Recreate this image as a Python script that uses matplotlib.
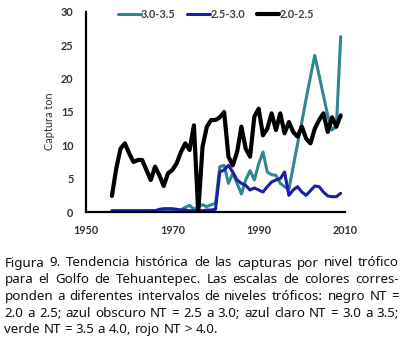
import matplotlib
matplotlib.use("Agg")
import matplotlib.pyplot as plt
from matplotlib import font_manager

# ---------------- data ----------------
years = list(range(1956, 2010))

nt_30_35 = [0.1, 0.1, 0.1, 0.1, 0.1, 0.1, 0.1, 0.1, 0.1, 0.2, 0.2, 0.2, 0.2, 0.2, 0.2, 0.2,
            0.3, 0.7, 1.0, 0.4, 0.8, 1.1, 0.8, 1.1, 1.3, 6.8, 7.0, 4.3, 5.8, 4.3, 2.7, 4.8,
            6.2, 4.8, 7.2, 9.0, 6.0, 5.6, 5.5, 4.3, 3.8, 3.4, 6.8, 10.2, 13.5, 17.0, 20.3,
            23.5, 20.5, 17.5, 14.5, 12.3, 12.8, 26.3]

nt_25_30 = [0.2, 0.2, 0.2, 0.2, 0.2, 0.2, 0.2, 0.2, 0.2, 0.2, 0.2,
            0.4, 0.5, 0.5, 0.5, 0.4,
            0.3, 0.3, 0.2, 0.2, 0.2, 0.2, 0.3, 0.3,
            0.4, 6.0, 6.3, 7.0, 6.0, 4.8, 4.3, 4.0, 3.3, 3.6, 3.3, 3.0, 3.8, 4.5, 4.8,
            5.0, 6.0, 2.5, 3.3, 3.8, 3.0, 2.5, 3.2, 3.9, 3.8, 3.0, 2.4, 2.3, 2.3, 2.8]

nt_20_25 = [2.4, 6.5, 9.5, 10.3, 8.8, 7.5, 7.8, 7.8, 6.3, 4.8, 6.8, 5.5, 3.9, 5.8, 6.3,
            7.3, 9.0, 10.3, 9.3, 13.0, 0.0, 9.8, 12.8, 13.8, 13.8, 14.2, 15.0, 8.3, 7.0,
            9.0, 12.8, 9.5, 8.3, 14.3, 15.5, 11.5, 12.5, 14.8, 12.3, 14.8, 11.8, 13.5,
            12.0, 11.3, 12.8, 11.0, 10.3, 12.5, 13.8, 14.8, 12.0, 14.2, 12.8, 14.5]

series_labels = ["3.0-3.5", "2.5-3.0", "2.0-2.5"]
x_ticks = [1950, 1970, 1990, 2010]
y_ticks = [0, 5, 10, 15, 20, 25, 30]
y_label = "Captura ton"

caption_lines = [
    "Figura 9. Tendencia histórica de las capturas por nivel trófico",
    "para el Golfo de Tehuantepec. Las escalas de colores corres-",
    "ponden a diferentes intervalos de niveles tróficos: negro NT =",
    "2.0 a 2.5; azul obscuro NT = 2.5 a 3.0; azul claro NT = 3.0 a 3.5;",
    "verde NT = 3.5 a 4.0, rojo NT > 4.0.",
]

# ---------------- fonts ----------------
installed = sorted({f.name for f in font_manager.fontManager.ttflist})

def pick(cands, default="DejaVu Sans"):
    for c in cands:
        if c in installed:
            return c
    return default

chart_font = pick(["Lato", "Open Sans", "Liberation Sans"])

# ---------------- figure ----------------
W, H = 402, 350
fig = plt.figure(figsize=(W / 100, H / 100), dpi=100)
fig.patch.set_facecolor("white")

ax_left, ax_right, ax_top, ax_bottom = 86, 345, 12, 212
ax = fig.add_axes([ax_left / W, 1 - ax_bottom / H, (ax_right - ax_left) / W,
                   (ax_bottom - ax_top) / H])

teal = "#2f8790"
navy = "#1a1fa5"
black = "#000000"

l1, = ax.plot(years, nt_30_35, color=teal, lw=2.2, zorder=2, solid_joinstyle="round",
              solid_capstyle="round", label=series_labels[0])
l2, = ax.plot(years, nt_25_30, color=navy, lw=2.2, zorder=3, solid_joinstyle="round",
              solid_capstyle="round", label=series_labels[1])
l3, = ax.plot(years, nt_20_25, color=black, lw=3.0, zorder=4, solid_joinstyle="round",
              solid_capstyle="round", label=series_labels[2])

ax.set_xlim(1950, 2010)
ax.set_ylim(0, 30)
ax.set_xticks(x_ticks)
ax.set_yticks(y_ticks)
ax.tick_params(length=0, labelsize=7.8, colors="#333333")
for lab in ax.get_xticklabels() + ax.get_yticklabels():
    lab.set_fontfamily(chart_font)
    lab.set_fontweight("bold")
ax.tick_params(axis="y", pad=9.0)
ax.tick_params(axis="x", pad=9.5)
for s in ["top", "right"]:
    ax.spines[s].set_visible(False)
for s in ["left", "bottom"]:
    ax.spines[s].set_linewidth(1.6)
    ax.spines[s].set_color("black")
    ax.spines[s].set_zorder(5)
ax.set_facecolor("none")

fig.text(50 / W, 1 - 121 / H, y_label, rotation=90, ha="center", va="center",
         fontsize=7.8, family=chart_font, color="#333333")

fig.legend(handles=[l1, l2, l3], loc="center", bbox_to_anchor=(216 / W, 1 - 14 / H),
           ncol=3, frameon=False, handlelength=2.1, handletextpad=0.0,
           columnspacing=1.1, prop={"family": chart_font, "weight": "bold", "size": 7.8},
           labelcolor="#404040", borderpad=0)

# ---------------- caption (justified) ----------------
renderer = fig.canvas.get_renderer()

def text_width(s, fs, fam):
    t = fig.text(0, 0, s, fontsize=fs, family=fam)
    w = t.get_window_extent(renderer).width
    t.remove()
    return w

x0, x1 = 4.5, 399.0
target = x1 - x0
fs_ref = 9.6

# choose the sans family whose natural caption width is closest to (but below) the column
bad = ("Serif", "Mono", "Extra", "Ultra", "Display", "Black", "Light", "Thin", "CJK")
cands = [n for n in installed
         if ("Narrow" in n or "Condensed" in n) and not any(b in n for b in bad)]
cands += [c for c in ["Liberation Sans", "Roboto", "Noto Sans", "DejaVu Sans"] if c in installed]
scores = {}
for f in cands:
    scores[f] = max(text_width(line, fs_ref, f) for line in caption_lines)
fitting = [f for f in cands if scores[f] <= target * 0.995]
if fitting:
    cap_font = max(fitting, key=lambda f: scores[f])
else:
    cap_font = min(cands, key=lambda f: scores[f])

fs = fs_ref
while True:
    widest = max(text_width(line, fs, cap_font) for line in caption_lines)
    if widest <= target * 0.995 or fs < 6:
        break
    fs -= 0.1

baselines = [266.5, 283.2, 300.0, 316.7, 333.4]
for i, (line, yb) in enumerate(zip(caption_lines, baselines)):
    words = line.split(" ")
    natural = text_width(line, fs, cap_font)
    n = len(words)
    if i < len(caption_lines) - 1 and n > 1:
        extra = (target - natural) / (n - 1)
    else:
        extra = 0.0
    for k, w in enumerate(words):
        # start of word k within the naturally spaced line
        start = text_width(" ".join(words[:k + 1]), fs, cap_font) - text_width(w, fs, cap_font)
        x = x0 + start + k * extra
        fig.text(x / W, 1 - yb / H, w, ha="left", va="baseline", fontsize=fs,
                 family=cap_font, color="#111111")

fig.savefig("out.png", dpi=100, facecolor="white")
